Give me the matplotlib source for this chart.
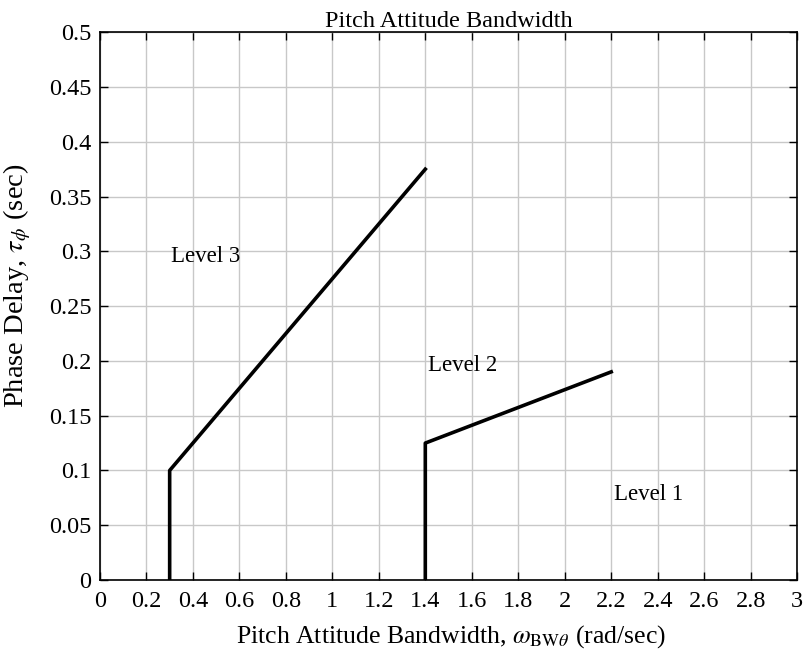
import matplotlib
matplotlib.use('Agg')
import matplotlib.pyplot as plt
import numpy as np

plt.rcParams['font.family'] = ['Liberation Serif', 'DejaVu Serif']
plt.rcParams['mathtext.fontset'] = 'stix'

# boundary lines
level3_x = [0.3, 0.3, 1.4]
level3_y = [0.0, 0.1, 0.375]
level1_x = [1.4, 1.4, 2.2]
level1_y = [0.0, 0.125, 0.19]

# region labels
label_text = ['Level 3', 'Level 2', 'Level 1']
label_x = [0.305, 1.41, 2.21]
label_y = [0.295, 0.196, 0.078]

fig = plt.figure(figsize=(8.06, 6.58), dpi=100)
ax = fig.add_axes([0.124, 0.1185, 0.865, 0.8325])

ax.plot(level3_x, level3_y, color='black', linewidth=2.6)
ax.plot(level1_x, level1_y, color='black', linewidth=2.6)

for t, x, y in zip(label_text, label_x, label_y):
    ax.text(x, y, t, fontsize=16.5, ha='left', va='center')

ax.set_xlim(0, 3)
ax.set_ylim(0, 0.5)
ax.set_xticks(np.arange(0, 3.01, 0.2))
ax.set_yticks(np.arange(0, 0.501, 0.05))
ax.set_xticklabels(['0', '0.2', '0.4', '0.6', '0.8', '1', '1.2', '1.4', '1.6', '1.8',
                    '2', '2.2', '2.4', '2.6', '2.8', '3'])
ax.set_yticklabels(['0', '0.05', '0.1', '0.15', '0.2', '0.25', '0.3', '0.35', '0.4',
                    '0.45', '0.5'])
ax.tick_params(direction='in', labelsize=17.5, length=6, width=1, top=True, right=True)
ax.tick_params(axis='x', pad=8)
ax.tick_params(axis='y', pad=6)
ax.grid(True, color='#c8c8c8', linewidth=1)
for s in ax.spines.values():
    s.set_linewidth(1.2)

ax.set_title('Pitch Attitude Bandwidth', fontsize=17.5, pad=4)
ax.set_xlabel(r'Pitch Attitude Bandwidth, $\omega_{\mathrm{BW}\theta}$ (rad/sec)', fontsize=18.5,
              va='center')
ax.xaxis.set_label_coords(0.503, -0.104)
ax.set_ylabel(r'Phase Delay, $\tau_{\phi}$ (sec)', fontsize=20.5, va='center')
ax.yaxis.set_label_coords(-0.118, 0.537)

plt.savefig('out.png', dpi=100)
plt.close()
